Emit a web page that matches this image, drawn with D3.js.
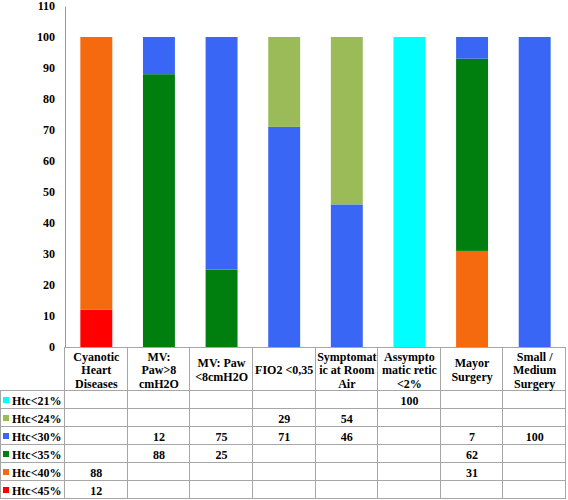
<!DOCTYPE html>
<html>
<head>
<meta charset="utf-8">
<script src="https://cdnjs.cloudflare.com/ajax/libs/d3/7.8.5/d3.min.js"></script>
<style>
  body { margin: 0; background: #fff; }
</style>
</head>
<body>
<div id="chart"></div>
<script>
// categories, with the line breaks used in the table header
const categories = [
  "Cyanotic Heart Diseases", "MV: Paw>8 cmH2O", "MV: Paw <8cmH2O", "FIO2 <0,35",
  "Symptomatic at Room Air", "Assymptomatic retic <2%", "Mayor Surgery", "Small / Medium Surgery"
];
const headerLines = [
  ["Cyanotic", "Heart", "Diseases"],
  ["MV:", "Paw>8", "cmH2O"],
  ["MV: Paw", "<8cmH2O"],
  ["FIO2 <0,35"],
  ["Symptomat", "ic at Room", "Air"],
  ["Assympto", "matic retic", "<2%"],
  ["Mayor", "Surgery"],
  ["Small /", "Medium", "Surgery"]
];

// series, top row of the table first
const seriesNames = ["Htc<21%", "Htc<24%", "Htc<30%", "Htc<35%", "Htc<40%", "Htc<45%"];
const htc21 = [null, null, null, null, null, 100, null, null];
const htc24 = [null, null, null, 29, 54, null, null, null];
const htc30 = [null, 12, 75, 71, 46, null, 7, 100];
const htc35 = [null, 88, 25, null, null, null, 62, null];
const htc40 = [88, null, null, null, null, null, 31, null];
const htc45 = [12, null, null, null, null, null, null, null];
const seriesValues = [htc21, htc24, htc30, htc35, htc40, htc45];
const colors = ["#00FFFF", "#9BBB59", "#3A66F5", "#007F0E", "#F5690F", "#FF0000"];

const yTicks = [0, 10, 20, 30, 40, 50, 60, 70, 80, 90, 100, 110];

const W = 568, H = 500;
const mLeft = 65, mRight = 566, mTop = 6, mBottom = 347;
const rowH = 18, headerH = 44;
const FONT = "'Times New Roman', 'Liberation Serif', Times, serif";

const svg = d3.select("#chart").append("svg")
  .attr("width", W)
  .attr("height", H)
  .attr("font-family", FONT)
  .attr("font-weight", "bold")
  .attr("font-size", 12);

const x = d3.scaleBand()
  .domain(categories)
  .range([mLeft, mRight])
  .paddingInner(0.49)
  .paddingOuter(0.245);

const y = d3.scaleLinear().domain([0, 110]).range([mBottom, mTop]);

// stack from bottom (Htc<45%) upward
const rows = categories.map((c, i) => {
  const r = { cat: c };
  seriesNames.forEach((s, j) => { r[s] = seriesValues[j][i] || 0; });
  return r;
});
const stackKeys = seriesNames.slice().reverse();
const stacked = d3.stack().keys(stackKeys)(rows);

svg.append("g").selectAll("g")
  .data(stacked)
  .enter()
  .append("g")
  .attr("fill", d => colors[seriesNames.indexOf(d.key)])
  .selectAll("rect")
  .data(d => d)
  .enter()
  .append("rect")
  .attr("x", d => x(d.data.cat))
  .attr("width", x.bandwidth())
  .attr("y", d => y(d[1]))
  .attr("height", d => y(d[0]) - y(d[1]));

// y axis
const yAxis = svg.append("g")
  .attr("transform", `translate(${mLeft},0)`)
  .call(d3.axisLeft(y).tickValues(yTicks).tickSize(0).tickPadding(10));
yAxis.attr("font-family", FONT).attr("font-size", 12).attr("font-weight", "bold");
yAxis.select(".domain").attr("stroke", "#999");
yAxis.selectAll("text").attr("fill", "#000");

// data table
const step = x.step();
const colX = i => mLeft + i * step;
const grid = svg.append("g").attr("stroke", "#a6a6a6").attr("stroke-width", 1);
const tableTop = mBottom;
const bodyTop = tableTop + headerH;
const tableBottom = bodyTop + rowH * seriesNames.length;

// horizontal lines
grid.append("line").attr("x1", mLeft).attr("x2", mRight).attr("y1", tableTop + 0.5).attr("y2", tableTop + 0.5);
for (let r = 0; r <= seriesNames.length; r++) {
  const yy = Math.round(bodyTop + r * rowH) - 0.5;
  grid.append("line").attr("x1", 0).attr("x2", mRight).attr("y1", yy).attr("y2", yy);
}
// vertical lines
grid.append("line").attr("x1", 0.5).attr("x2", 0.5).attr("y1", bodyTop).attr("y2", tableBottom);
for (let i = 0; i <= categories.length; i++) {
  const xx = Math.round(colX(i)) - 0.5;
  grid.append("line").attr("x1", xx).attr("x2", xx).attr("y1", tableTop).attr("y2", tableBottom);
}

// header
headerLines.forEach((lines, i) => {
  const cx = colX(i) + step / 2;
  const cy = tableTop + headerH / 2 + 1;
  const lh = 13.5;
  const t = svg.append("text").attr("text-anchor", "middle");
  lines.forEach((l, k) => {
    t.append("tspan")
      .attr("x", cx)
      .attr("y", cy + (k - (lines.length - 1) / 2) * lh + 4)
      .text(l);
  });
});

// body rows with legend keys
seriesNames.forEach((s, j) => {
  const ry = bodyTop + j * rowH;
  svg.append("rect")
    .attr("x", 3).attr("y", ry + 6)
    .attr("width", 6).attr("height", 6)
    .attr("fill", colors[j]);
  svg.append("text")
    .attr("x", 12).attr("y", ry + 13.5)
    .text(s);
  seriesValues[j].forEach((v, i) => {
    if (v == null) return;
    svg.append("text")
      .attr("x", colX(i) + step / 2)
      .attr("y", ry + 13.5)
      .attr("text-anchor", "middle")
      .text(v);
  });
});
</script>
</body>
</html>
